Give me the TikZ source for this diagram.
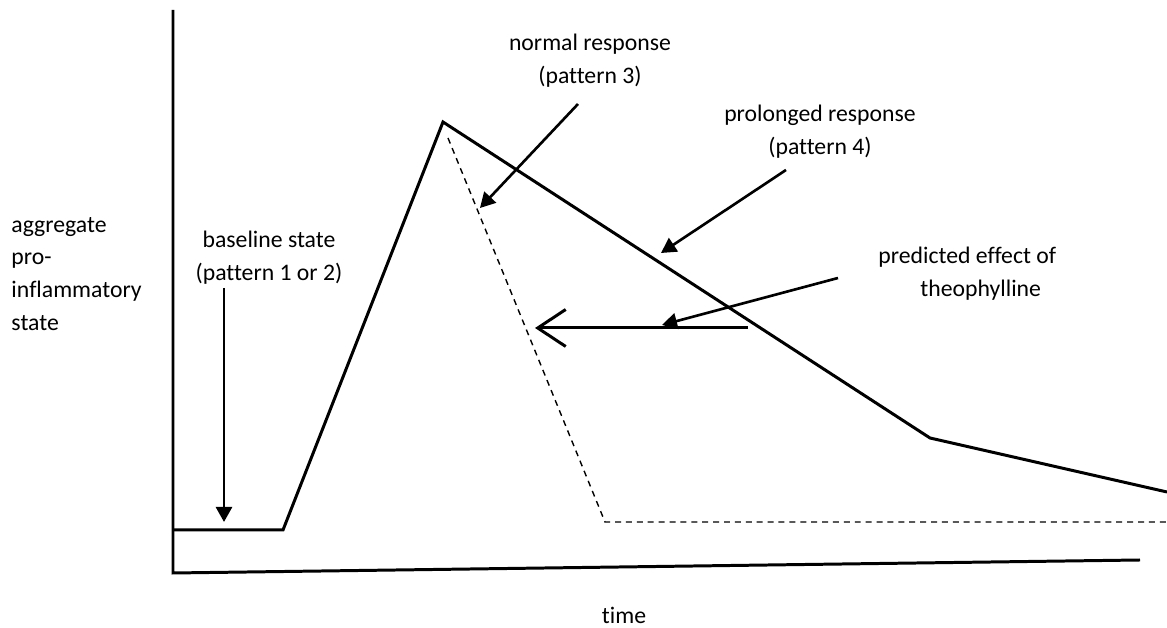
\documentclass[tikz,border=0pt]{standalone}
\usepackage{fontspec}
\setmainfont[Ligatures=NoCommon]{Carlito}
\usetikzlibrary{arrows.meta}

\begin{document}
\begin{tikzpicture}[>={Triangle[length=3mm, width=3.2mm]}, line width=1.7pt,
    every node/.style={font=\fontsize{13.5}{18.7}\selectfont, inner sep=0pt}]
  \useasboundingbox (0,0) rectangle (23.34,12.56);
  % ejes
  \draw (3.46,12.36) -- (3.46,1.10) -- (22.80,1.36);
  \node (ylab) [anchor=west, align=left] at (0.20,7.08) {aggregate\\pro-\\inflammatory\\state};
  \node (tlab) at (12.48,0.26) {time};
  % respuesta prolongada
  \draw (3.46,1.96) -- (5.66,1.96) -- (8.86,10.12) -- (18.60,3.80) -- (23.34,2.72);
  % respuesta normal (discontinua)
  \draw[line width=0.8pt, dash pattern=on 3.4pt off 2.8pt] (8.96,9.80) -- (12.10,2.12) -- (23.34,2.12);
  % etiquetas
  \node (base) [align=center] at (5.38,7.40) {baseline state\\(pattern 1 or 2)};
  \node (norm) [align=center] at (11.80,11.35) {normal response\\(pattern 3)};
  \node (prol) [align=center] at (16.40,9.92) {prolonged response\\(pattern 4)};
  \node (theo) [anchor=west, align=left] at (17.54,7.08) {predicted effect of\\\hspace*{0.84cm}theophylline};
  % flechas
  \coordinate (basetail) at (4.48,6.80);
  \coordinate (basetip) at (4.48,2.12);
  \coordinate (normtail) at (11.56,10.48);
  \coordinate (normtip) at (9.60,8.40);
  \coordinate (proltail) at (15.72,9.16);
  \coordinate (proltip) at (13.22,7.50);
  \coordinate (theotail) at (16.76,7.00);
  \coordinate (theotip) at (13.24,6.06);
  \coordinate (shifttail) at (14.96,6.00);
  \coordinate (shifttip) at (10.70,6.00);
  \draw[->, line width=1.5pt] (basetail) -- (basetip);
  \draw[->, line width=1.5pt] (normtail) -- (normtip);
  \draw[->, line width=1.5pt] (proltail) -- (proltip);
  \draw[->, line width=1.5pt] (theotail) -- (theotip);
  \draw[-{Straight Barb[length=5.6mm, width=7.4mm]}, line width=1.7pt] (shifttail) -- (shifttip);
\end{tikzpicture}
\end{document}
